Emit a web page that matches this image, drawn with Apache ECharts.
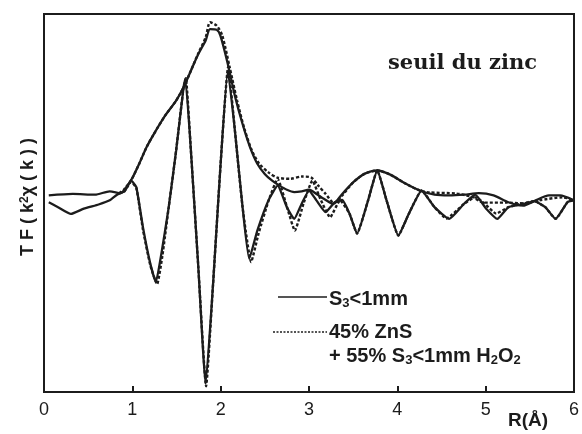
<!DOCTYPE html>
<html>
<head>
<meta charset="utf-8">
<script src="https://cdn.jsdelivr.net/npm/echarts@6/dist/echarts.min.js"></script>
<style>
html,body{margin:0;padding:0;background:#fff;}
#chart{width:582px;height:434px;}
</style>
</head>
<body>
<div id="chart"></div>
<script>
// X tick labels
var xTicks = [0, 1, 2, 3, 4, 5, 6];

// Solid line (S3<1mm) – modulus envelope
var solidModR = [0.054,0.326,0.577,0.744,0.869,0.932,0.995,1.078,1.162,1.245,1.371,1.496,1.580,1.663,1.747,1.830,1.88,1.956,1.997,2.081,2.165,2.248,2.332,2.415,2.499,2.583,2.666,2.750,2.833,2.917,3.000,3.084,3.168,3.272,3.376,3.502,3.627,3.773,3.920,4.087,4.254,4.421,4.588,4.756,4.923,5.090,5.257,5.424,5.550,5.717,5.842,5.988];
var solidModV = [52.0,52.4,52.2,53.1,52.6,54.2,56.4,60.4,64.8,68.3,73.1,77.1,80.6,85.0,89.4,93.0,96.0,95.8,94.3,86.8,78.0,70.9,64.8,60.4,57.7,55.9,54.6,53.5,52.9,53.1,53.5,52.4,51.1,49.8,52.4,55.5,57.7,58.6,57.5,55.2,53.3,52.2,52.0,52.2,52.6,52.0,50.2,49.3,50.5,52.0,52.0,50.8];

// Solid line (S3<1mm) – oscillating part
var solidImR = [0.054,0.159,0.305,0.451,0.618,0.744,0.827,0.911,0.986,1.045,1.120,1.204,1.266,1.329,1.412,1.496,1.580,1.600,1.663,1.747,1.830,1.914,1.997,2.081,2.165,2.248,2.323,2.415,2.541,2.645,2.750,2.833,2.917,3.000,3.084,3.188,3.293,3.376,3.460,3.544,3.669,3.773,3.878,4.012,4.129,4.275,4.421,4.588,4.756,4.881,5.006,5.132,5.257,5.424,5.550,5.675,5.792,5.926,6.0];
var solidImV = [50.2,48.9,47.1,48.5,49.6,50.7,52.2,53.1,55.9,54.2,43.6,33.9,29.1,36.6,48.9,63.9,80.6,82.8,63.9,33.0,2.2,28.6,59.5,85.0,68.3,48.9,35.2,42.7,50.7,54.6,48.9,45.8,49.8,53.3,50.7,47.6,50.2,50.8,47.1,41.9,50.7,58.6,50.7,41.4,47.1,53.3,48.9,45.8,49.8,52.2,48.5,45.8,48.9,49.6,50.5,48.9,45.8,50.2,50.8];

// Dashed line (45% ZnS + 55% S3<1mm H2O2) – modulus envelope
var dashModR = [0.85,0.911,0.995,1.078,1.162,1.245,1.371,1.496,1.580,1.663,1.747,1.830,1.88,1.956,2.018,2.102,2.186,2.269,2.353,2.436,2.541,2.645,2.791,2.917,3.021,3.105,3.188,3.285,3.376,3.502,3.627,3.773,3.920,4.087,4.254,4.363,4.668,4.860,4.973,5.232,5.424,5.604,5.871,6.0];
var dashModV = [52.6,53.7,56.4,60.4,64.8,68.3,73.1,77.1,80.6,85.0,89.6,93.8,97.8,96.9,94.3,85.9,77.1,69.6,63.9,60.4,58.1,56.7,56.4,57.0,56.8,54.6,52.4,50.0,52.0,55.5,57.7,58.6,57.5,55.2,53.3,52.8,52.5,51.5,50.1,50.1,49.9,50.7,51.5,50.8];

// Dashed line – oscillating part
var dashImR = [0.85,0.911,0.986,1.045,1.120,1.204,1.280,1.340,1.412,1.496,1.580,1.605,1.663,1.747,1.835,1.914,1.997,2.085,2.165,2.248,2.345,2.430,2.541,2.645,2.750,2.840,2.940,3.038,3.130,3.239,3.351,3.460,3.544,3.669,3.773,3.878,4.012,4.129,4.275,4.421,4.555,4.756,4.881,4.980,5.120,5.257,5.424,5.550,5.675,5.792,5.926,6.0];
var dashImV = [52.6,53.1,55.6,54.0,43.0,33.5,28.5,36.0,48.9,63.9,80.6,83.0,63.9,33.0,1.5,28.6,59.5,86.0,68.3,48.9,34.4,42.0,50.5,56.4,49.0,42.7,50.0,55.9,51.0,46.2,50.7,47.1,41.9,50.7,58.6,50.7,41.4,47.1,53.3,48.9,45.9,49.8,51.5,50.0,47.2,48.9,49.9,50.5,48.9,45.8,50.2,50.8];

function zip(a, b) { return a.map(function (v, i) { return [v, b[i]]; }); }

var ink = '#1c1c1c';
var chart = echarts.init(document.getElementById('chart'), null, {renderer: 'canvas'});

var solidStyle = {color: ink, width: 2.3, type: 'solid'};
var dashStyle = {color: ink, width: 2.4, type: [3, 2]};
var sans = '"Liberation Sans", Arial, sans-serif';

chart.setOption({
  backgroundColor: '#fff',
  animation: false,
  grid: {left: 44, right: 3, top: 14, bottom: 42, show: true, borderColor: ink, borderWidth: 2, backgroundColor: 'transparent'},
  xAxis: {
    type: 'value', min: 0, max: 6, interval: 1,
    axisLine: {show: true, lineStyle: {color: ink, width: 2}},
    axisTick: {show: true, inside: true, length: 6, lineStyle: {color: ink, width: 2}},
    axisLabel: {color: ink, fontSize: 18, fontFamily: sans, margin: 9,
      formatter: function (v) { return xTicks.indexOf(v) >= 0 ? String(v) : ''; }},
    splitLine: {show: false}
  },
  yAxis: {
    type: 'value', min: 0, max: 100,
    axisLine: {show: true, lineStyle: {color: ink, width: 2}},
    axisTick: {show: false}, axisLabel: {show: false}, splitLine: {show: false}
  },
  series: [
    {type: 'line', data: zip(solidModR, solidModV), showSymbol: false, smooth: 0.25, lineStyle: solidStyle, z: 3},
    {type: 'line', data: zip(solidImR, solidImV), showSymbol: false, smooth: 0.15, lineStyle: solidStyle, z: 3},
    {type: 'line', data: zip(dashModR, dashModV), showSymbol: false, smooth: 0.25, lineStyle: dashStyle, z: 2},
    {type: 'line', data: zip(dashImR, dashImV), showSymbol: false, smooth: 0.15, lineStyle: dashStyle, z: 2}
  ],
  graphic: [
    {type: 'text', left: 388, top: 53, style: {text: 'seuil du zinc', font: 'bold 21px "DejaVu Serif", serif', fill: ink}},
    {type: 'text', x: 28, y: 197, rotation: Math.PI / 2, style: {
      text: '{a|T F ( k}{s|2}{a|χ ( k ) )}', align: 'center', verticalAlign: 'middle',
      rich: {a: {font: 'bold 18px ' + sans, fill: ink}, s: {font: 'bold 12px ' + sans, fill: ink, verticalAlign: 'top'}}}},
    {type: 'text', left: 508, top: 411, style: {text: 'R(Å)', font: 'bold 19px ' + sans, fill: ink}},
    {type: 'line', shape: {x1: 278, y1: 297, x2: 327, y2: 297}, style: {stroke: ink, lineWidth: 1.5}},
    {type: 'line', shape: {x1: 273, y1: 332, x2: 327, y2: 332}, style: {stroke: ink, lineWidth: 1.5, lineDash: [2, 1.5]}},
    {type: 'text', x: 329, y: 299, style: {text: '{a|S}{s|3}{a|<1mm}', verticalAlign: 'middle',
      rich: {a: {font: 'bold 20px ' + sans, fill: ink}, s: {font: 'bold 13px ' + sans, fill: ink, verticalAlign: 'bottom', padding: [8, 0, 0, 0]}}}},
    {type: 'text', x: 329, y: 332, style: {text: '45% ZnS', verticalAlign: 'middle', font: 'bold 20px ' + sans, fill: ink}},
    {type: 'text', x: 329, y: 356, style: {text: '{a|+ 55% S}{s|3}{a|<1mm H}{s|2}{a|O}{s|2}', verticalAlign: 'middle',
      rich: {a: {font: 'bold 20px ' + sans, fill: ink}, s: {font: 'bold 13px ' + sans, fill: ink, verticalAlign: 'bottom', padding: [8, 0, 0, 0]}}}}
  ]
});
</script>
</body>
</html>
